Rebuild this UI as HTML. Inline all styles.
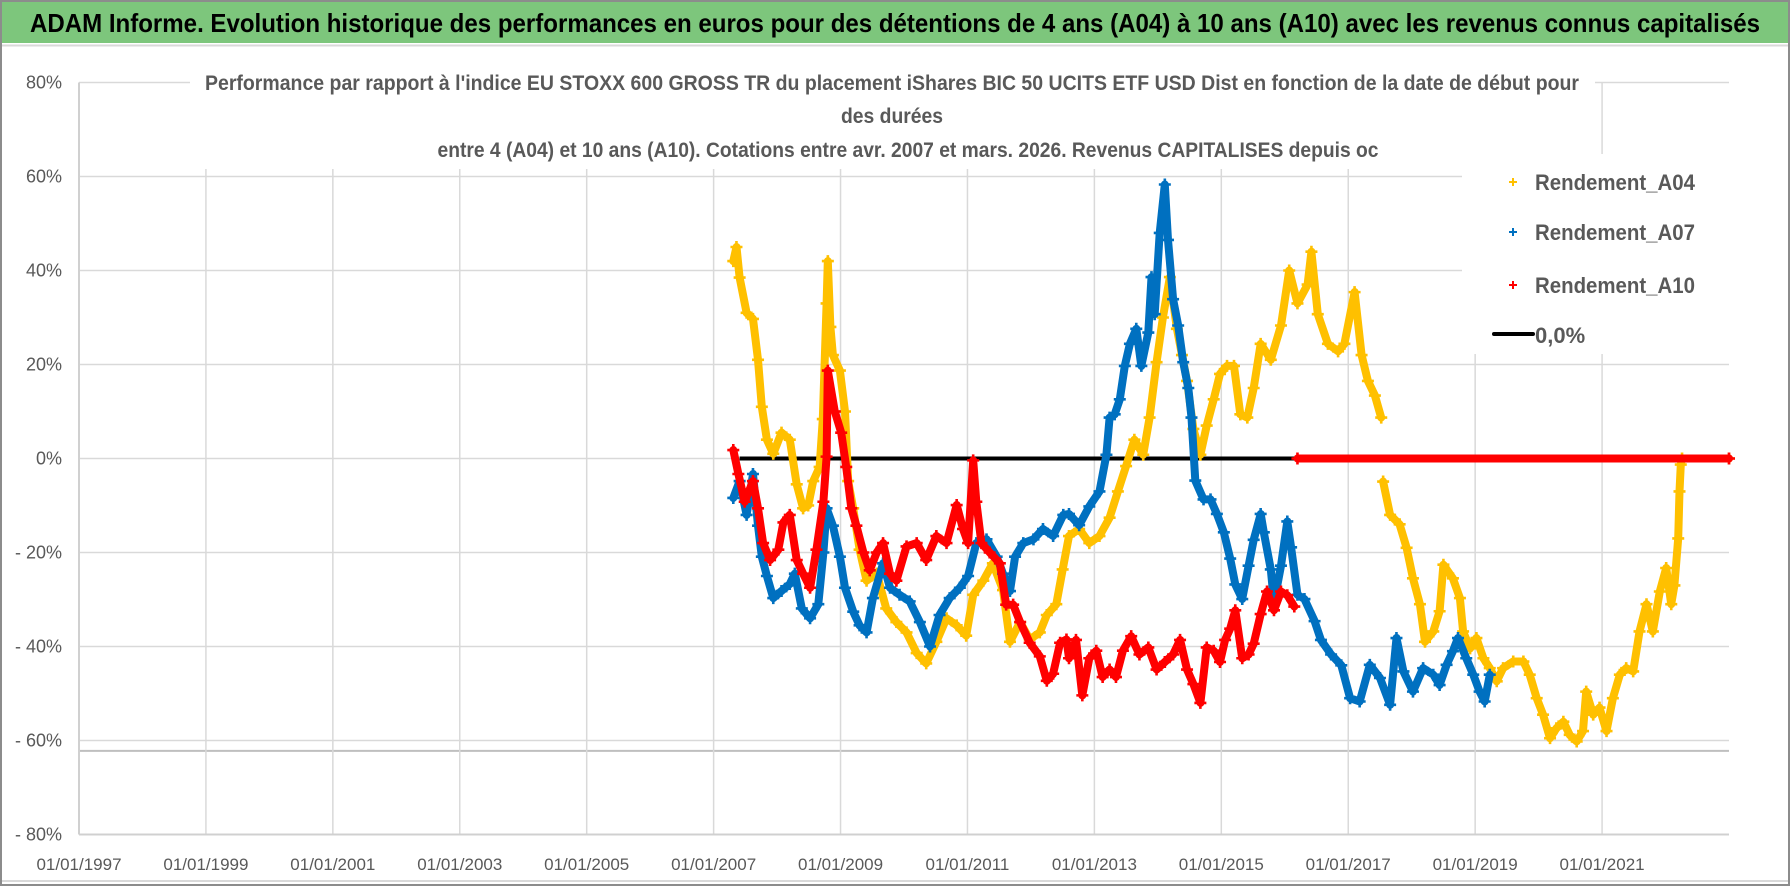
<!DOCTYPE html>
<html><head><meta charset="utf-8"><title>ADAM Informe</title>
<style>
html,body{margin:0;padding:0;background:#fff;}
svg{display:block;font-family:"Liberation Sans",Arial,sans-serif;}
</style></head>
<body>
<svg id="chart" width="1790" height="886" viewBox="0 0 1790 886" xmlns="http://www.w3.org/2000/svg">
  <rect x="0" y="0" width="1790" height="886" fill="#fff"/>
  <rect x="2" y="2" width="1786" height="41" fill="#7DC67C"/>
  <text x="30" y="32" font-size="26" font-weight="bold" fill="#000" textLength="1730" lengthAdjust="spacingAndGlyphs">ADAM Informe. Evolution historique des performances en euros pour des détentions de 4 ans (A04) à 10 ans (A10) avec les revenus connus capitalisés</text>
  <line x1="2" y1="45.5" x2="1788" y2="45.5" stroke="#d9d9d9" stroke-width="2"/>
  <g id="grid"></g>
  <g id="series"></g>
  <rect x="190" y="72" width="1405" height="97" fill="#fff"/>
  <text x="892" y="90" text-anchor="middle" font-size="21" font-weight="bold" fill="#595959" textLength="1374" lengthAdjust="spacingAndGlyphs">Performance par rapport à l'indice EU STOXX 600 GROSS TR  du placement iShares BIC 50 UCITS ETF USD Dist en fonction de la date de début pour</text>
  <text x="892" y="123" text-anchor="middle" font-size="21" font-weight="bold" fill="#595959" textLength="102" lengthAdjust="spacingAndGlyphs">des durées</text>
  <text x="908" y="157" text-anchor="middle" font-size="21" font-weight="bold" fill="#595959" textLength="941" lengthAdjust="spacingAndGlyphs">entre 4 (A04) et 10 ans (A10). Cotations entre avr. 2007 et mars. 2026. Revenus CAPITALISES depuis oc</text>
  <rect x="1462" y="154" width="267" height="200" fill="#fff"/>
  <g id="legend"></g>
  <g id="axes"></g>
  <rect x="1" y="1" width="1788" height="884" fill="none" stroke="#8c8c8c" stroke-width="2"/>
  <line x1="2" y1="881" x2="1788" y2="881" stroke="#d9d9d9" stroke-width="2"/>
</svg>
<script>
// ---- data (decimal year, percent) ----
const yTicks = [80, 60, 40, 20, 0, -20, -40, -60, -80];
const yTickLabels = ["80%", "60%", "40%", "20%", "0%", "- 20%", "- 40%", "- 60%", "- 80%"];
const xTicks = [1997, 1999, 2001, 2003, 2005, 2007, 2009, 2011, 2013, 2015, 2017, 2019, 2021];
const xTickLabels = ["01/01/1997","01/01/1999","01/01/2001","01/01/2003","01/01/2005","01/01/2007","01/01/2009","01/01/2011","01/01/2013","01/01/2015","01/01/2017","01/01/2019","01/01/2021"];
const minLineValue = -62.2;
const seriesNames = ["Rendement_A04", "Rendement_A07", "Rendement_A10", "0,0%"];

const a04Dates = [2007.31,2007.36,2007.41,2007.52,2007.62,2007.70,2007.76,2007.84,2007.94,2008.07,2008.20,2008.31,2008.41,2008.49,2008.57,2008.67,2008.72,2008.78,2008.80,2008.84,2008.88,2008.99,2009.07,2009.12,2009.20,2009.30,2009.41,2009.57,2009.72,2009.88,2010.04,2010.20,2010.35,2010.51,2010.67,2010.83,2010.98,2011.09,2011.25,2011.40,2011.56,2011.67,2011.83,2011.98,2012.14,2012.25,2012.40,2012.50,2012.60,2012.76,2012.92,2013.08,2013.24,2013.37,2013.50,2013.63,2013.77,2013.87,2013.98,2014.08,2014.19,2014.30,2014.38,2014.46,2014.56,2014.67,2014.77,2014.88,2014.98,2015.09,2015.20,2015.30,2015.41,2015.51,2015.62,2015.78,2015.94,2016.07,2016.20,2016.36,2016.42,2016.52,2016.68,2016.84,2016.94,2017.10,2017.21,2017.31,2017.42,2017.52,2017.53,2017.55,2017.66,2017.81,2017.92,2018.02,2018.13,2018.21,2018.34,2018.44,2018.50,2018.65,2018.76,2018.81,2018.92,2019.02,2019.13,2019.23,2019.34,2019.44,2019.60,2019.76,2019.86,2019.97,2020.07,2020.18,2020.28,2020.39,2020.49,2020.60,2020.70,2020.75,2020.86,2020.96,2021.07,2021.17,2021.28,2021.38,2021.49,2021.59,2021.70,2021.80,2021.91,2022.01,2022.09,2022.14,2022.20,2022.22,2022.24,2022.26,2023.0];
const a04Values = [42,45,38.5,31,29.7,21,11,4,1,5.5,4,-5.5,-10.6,-10,-4.8,-1.8,8.4,33,42,28,22,18.7,10,-4.8,-10.6,-19.4,-26,-24.5,-31.9,-34.8,-37,-41.4,-43.6,-39,-34,-35.5,-37.7,-29,-26,-22.3,-28,-39,-34.8,-38.5,-37,-33.3,-31,-23.6,-16.5,-15,-18,-16.5,-12.6,-7,-1.6,4,0.8,8.7,20.5,30,38.6,27.6,22,16.5,6.3,0.8,7,12.6,18,19.7,19.7,9.4,8.7,15,24.4,21,28.3,40,33,37,44,30.7,24.4,22.8,24.4,35.4,22,16.5,13.4,8.7,null,-4.9,-12,-14,-19,-25.5,-31,-39,-36.8,-32.5,-22.6,-25.5,-29.7,-36.8,-40.4,-38.2,-42.5,-44.6,-47.4,-44.6,-43.2,-43.2,-46,-51,-54.5,-59.5,-57.4,-56,-58.8,-60.2,-58,-49.6,-54.5,-53,-58,-51,-46,-44.6,-45.3,-36.8,-31,-36.8,-28.3,-23.3,-31,-27,-17,-7,-1.3,0,0];

const a07Dates = [2007.31,2007.41,2007.52,2007.62,2007.70,2007.76,2007.84,2007.94,2008.07,2008.20,2008.28,2008.39,2008.52,2008.65,2008.73,2008.78,2008.88,2008.99,2009.07,2009.20,2009.30,2009.41,2009.51,2009.67,2009.78,2009.93,2010.09,2010.25,2010.41,2010.56,2010.72,2010.88,2011.01,2011.14,2011.30,2011.46,2011.56,2011.67,2011.75,2011.88,2012.04,2012.19,2012.35,2012.51,2012.60,2012.76,2012.92,2013.08,2013.19,2013.24,2013.32,2013.40,2013.48,2013.56,2013.66,2013.74,2013.85,2013.90,2013.95,2014.03,2014.11,2014.16,2014.24,2014.32,2014.40,2014.48,2014.53,2014.59,2014.72,2014.83,2014.93,2015.04,2015.14,2015.22,2015.33,2015.43,2015.51,2015.62,2015.67,2015.78,2015.83,2015.94,2016.04,2016.10,2016.20,2016.31,2016.47,2016.57,2016.73,2016.89,2017.03,2017.18,2017.34,2017.50,2017.66,2017.76,2017.87,2018.02,2018.18,2018.34,2018.44,2018.55,2018.65,2018.73,2018.86,2018.97,2019.07,2019.15,2019.23];
const a07Values = [-8.4,-4.8,-12,-3.3,-14.3,-20.9,-25,-29.7,-28.2,-26.7,-24.5,-31.9,-34,-31,-20,-10.6,-14.3,-20.9,-27.5,-32.6,-35.5,-37,-29.7,-22.3,-27.5,-29,-30.4,-34.8,-40,-33.3,-29.7,-27.5,-25,-18,-17.2,-20.9,-24.5,-28.2,-20.9,-18,-17.2,-15,-16.5,-12,-11.8,-14.2,-10.2,-7,0.8,8.7,9.4,12.6,19.7,24.4,27.6,19.7,26.8,38.6,30.7,48,58.3,46.5,33.9,28.3,20.5,15,8.7,-4.7,-8.7,-8.7,-11.8,-15.7,-21.3,-26.8,-29.9,-22.8,-17.3,-11.8,-15.7,-23.6,-30.7,-22.8,-13.4,-18.9,-29,-29.9,-34.6,-38.6,-41.7,-44,-51,-51.7,-43.9,-46.7,-52.4,-38.2,-45.3,-49.6,-44.6,-46,-48.2,-43.9,-41,-38.2,-42.5,-46,-49.6,-51.7,-46];

const a10Dates = [2007.31,2007.39,2007.49,2007.62,2007.70,2007.78,2007.89,2008.02,2008.10,2008.20,2008.31,2008.41,2008.52,2008.62,2008.73,2008.78,2008.80,2008.91,2009.01,2009.09,2009.17,2009.25,2009.36,2009.46,2009.57,2009.67,2009.78,2009.88,2010.04,2010.20,2010.35,2010.51,2010.67,2010.83,2010.93,2011.01,2011.09,2011.14,2011.22,2011.35,2011.51,2011.61,2011.72,2011.83,2011.98,2012.14,2012.25,2012.35,2012.46,2012.56,2012.60,2012.71,2012.81,2012.92,2013.03,2013.13,2013.24,2013.34,2013.45,2013.58,2013.71,2013.85,2013.98,2014.11,2014.24,2014.35,2014.46,2014.56,2014.67,2014.77,2014.88,2014.98,2015.06,2015.14,2015.22,2015.33,2015.43,2015.51,2015.62,2015.72,2015.83,2015.94,2016.04,2016.15,2016.18,2016.20,2023.0];
const a10Values = [1.8,-3.3,-9.2,-4.8,-10.6,-18,-21.6,-19.4,-13.6,-12,-21.6,-24.5,-27.5,-19.4,-9.2,0.4,18.7,10,5.5,-1.8,-10.6,-14.3,-20,-23.8,-20,-18,-24.5,-26,-18.7,-18,-21.6,-16.5,-18,-9.9,-15,-18,-0.4,-9.2,-18,-20,-22.3,-31.1,-31.1,-34.8,-39.2,-42.1,-47.3,-45.8,-39.2,-38.5,-42.5,-38.6,-50.4,-42.5,-40.9,-46.5,-44.9,-46.5,-40.9,-37.8,-41.7,-40.2,-44.9,-43.3,-41.7,-38.6,-44.9,-48,-52,-40.2,-40.9,-43.3,-38.6,-36.2,-32.3,-42.5,-41.7,-39.4,-33.1,-28.3,-32.3,-28.3,-29.1,-31.5,null,0,0];

const zeroDates = [2007.41, 2016.20];
const zeroValues = [0, 0];

// ---- scales ----
const PL = 79, PR = 1729, YEAR0 = 1997, YEAR1 = 2023;
function xs(d){ return PL + (d - YEAR0) * (PR - PL) / (YEAR1 - YEAR0); }
function ys(v){ return 458.5 - v * 4.7; }

const NS = "http://www.w3.org/2000/svg";
function mk(tag, attrs, parent){
  const e = document.createElementNS(NS, tag);
  for (const k in attrs) e.setAttribute(k, attrs[k]);
  parent.appendChild(e);
  return e;
}
const grid = document.getElementById('grid');
const axes = document.getElementById('axes');
const seriesG = document.getElementById('series');
const legend = document.getElementById('legend');

yTicks.forEach((t, i) => {
  const l = mk('line', {x1: PL, x2: PR, y1: ys(t), y2: ys(t), stroke: '#d9d9d9', 'stroke-width': 1.5}, grid);
  
  
  const tx = mk('text', {x: 62, y: ys(t) + 6, 'text-anchor': 'end', 'font-size': 18, fill: '#595959'}, axes);
  tx.textContent = yTickLabels[i];
  
  
});
const ml = mk('line', {x1: PL, x2: PR, y1: ys(minLineValue), y2: ys(minLineValue), stroke: '#bfbfbf', 'stroke-width': 2}, grid);


xTicks.forEach((t, i) => {
  const l = mk('line', {x1: xs(t), x2: xs(t), y1: ys(80), y2: ys(-80), stroke: '#d9d9d9', 'stroke-width': 1.5}, grid);
  
  
  const tx = mk('text', {x: xs(t), y: 870, 'text-anchor': 'middle', 'font-size': 17, fill: '#595959'}, axes);
  tx.textContent = xTickLabels[i];
  
  
});
const yAxis = mk('line', {x1: PL, x2: PL, y1: ys(80), y2: ys(-80), stroke: '#d0d0d0', 'stroke-width': 2}, grid);


const xAxis = mk('line', {x1: PL, x2: PR, y1: ys(-80), y2: ys(-80), stroke: '#d0d0d0', 'stroke-width': 2}, grid);



function bandPaths(dates, vals){
  let d = '', pen = false;
  for (let i = 0; i < dates.length; i++){
    if (vals[i] === null){ pen = false; continue; }
    d += (pen ? 'L' : 'M') + xs(dates[i]).toFixed(1) + ' ' + ys(vals[i]).toFixed(1) + ' ';
    pen = true;
  }
  return d;
}
function drawSeries(dates, vals, color, name){
  const g = mk('g', {}, seriesG);
  
  
  const p = mk('path', {d: bandPaths(dates, vals), fill: 'none', stroke: color, 'stroke-width': 8, 'stroke-linejoin': 'round', 'stroke-linecap': 'round'}, g);
  
  
  for (let i = 0; i < dates.length; i++){
    if (vals[i] === null) continue;
    const cx = xs(dates[i]), cy = ys(vals[i]);
    const m = mk('path', {d: `M${cx-6} ${cy}H${cx+6}M${cx} ${cy-6}V${cy+6}`, stroke: color, 'stroke-width': 2.6}, g);
    
    
  }
}
const zl = mk('path', {d: bandPaths(zeroDates, zeroValues), stroke: '#000', 'stroke-width': 4, fill: 'none'}, seriesG);


drawSeries(a04Dates, a04Values, '#FFC000', 'series-a04');
drawSeries(a07Dates, a07Values, '#0070C0', 'series-a07');
drawSeries(a10Dates, a10Values, '#FF0000', 'series-a10');

const legColors = ['#FFC000', '#0070C0', '#FF0000', '#000'];
const legY = [182, 232, 285, 334];
seriesNames.forEach((n, i) => {
  const g = mk('g', {}, legend);
  
  
  if (i < 3){
    const cx = 1513, cy = legY[i];
    mk('path', {d: `M${cx-4} ${cy}H${cx+4}M${cx} ${cy-4}V${cy+4}`, stroke: legColors[i], 'stroke-width': 2}, g);
    const t = mk('text', {x: 1535, y: cy + 8, 'font-size': 22, 'font-weight': 'bold', fill: '#595959', textLength: 160, lengthAdjust: 'spacingAndGlyphs'}, g);
    t.textContent = n;
  } else {
    mk('line', {x1: 1494, x2: 1533, y1: legY[i], y2: legY[i], stroke: '#000', 'stroke-width': 4, 'stroke-linecap': 'round'}, g);
    const t = mk('text', {x: 1535, y: legY[i] + 9, 'font-size': 22, 'font-weight': 'bold', fill: '#595959'}, g);
    t.textContent = n;
  }
});
</script>
</body></html>
